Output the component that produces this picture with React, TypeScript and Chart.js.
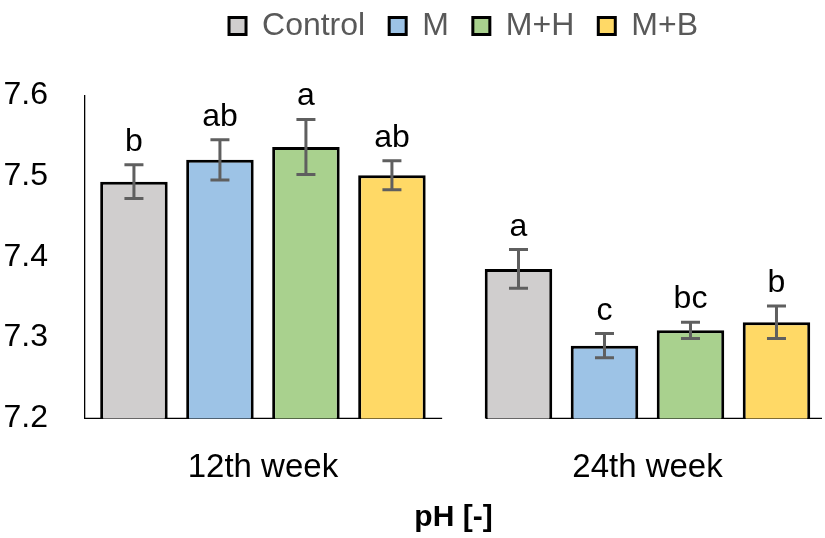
import { useEffect, useRef } from "react";
import { Chart, registerables } from "chart.js";

Chart.register(...registerables);

const CATEGORIES = ["12th week", "24th week"];
const SERIES = ["Control", "M", "M+H", "M+B"];
const COLORS = ["#D0CECE", "#9DC3E6", "#A9D18E", "#FFD966"];

const CONTROL = [7.493, 7.385];
const M = [7.52, 7.29];
const MH = [7.536, 7.309];
const MB = [7.501, 7.319];

const CONTROL_ERR = [0.021, 0.024];
const M_ERR = [0.025, 0.015];
const MH_ERR = [0.034, 0.01];
const MB_ERR = [0.018, 0.02];

const CONTROL_LETTERS = ["b", "a"];
const M_LETTERS = ["ab", "c"];
const MH_LETTERS = ["a", "bc"];
const MB_LETTERS = ["ab", "b"];

const Y_MIN = 7.2;
const Y_MAX = 7.6;
const Y_STEP = 0.1;

// x range (category index units) and broken axis segments
const X_MIN = -0.4627;
const X_MAX = 1.4538;
const AXIS_SEGMENTS = [
  [X_MIN, 0.466],
  [0.58, X_MAX],
];

const FONT = "'Liberation Sans', Arial, sans-serif";

const errorPlugin = {
  id: "errorBarsAndLetters",
  afterDatasetsDraw(chart: any) {
    const ctx = chart.ctx;
    const yScale = chart.scales.y;
    chart.data.datasets.forEach((ds: any, di: number) => {
      const meta = chart.getDatasetMeta(di);
      meta.data.forEach((bar: any, i: number) => {
        const v = ds.data[i].y;
        const e = ds.errors[i];
        const top = yScale.getPixelForValue(v + e);
        const bot = yScale.getPixelForValue(v - e);
        ctx.save();
        ctx.strokeStyle = "#5F5F5F";
        ctx.lineWidth = 3;
        ctx.beginPath();
        ctx.moveTo(bar.x, top);
        ctx.lineTo(bar.x, bot);
        ctx.moveTo(bar.x - 9.5, top);
        ctx.lineTo(bar.x + 9.5, top);
        ctx.moveTo(bar.x - 9.5, bot);
        ctx.lineTo(bar.x + 9.5, bot);
        ctx.stroke();
        ctx.fillStyle = "#000";
        ctx.font = `32px ${FONT}`;
        ctx.textAlign = "center";
        ctx.textBaseline = "alphabetic";
        ctx.fillText(ds.letters[i], bar.x, top - 14);
        ctx.restore();
      });
    });
  },
};

const axisPlugin = {
  id: "brokenXAxis",
  beforeDatasetsDraw(chart: any) {
    const ctx = chart.ctx;
    const xScale = chart.scales.x;
    const yPix = chart.chartArea.bottom;
    ctx.save();
    ctx.strokeStyle = "#000";
    ctx.lineWidth = 1.3;
    AXIS_SEGMENTS.forEach(([a, b]) => {
      ctx.beginPath();
      ctx.moveTo(xScale.getPixelForValue(a), yPix);
      ctx.lineTo(xScale.getPixelForValue(b), yPix);
      ctx.stroke();
    });
    ctx.restore();
  },
};

const legendShift = {
  id: "legendShift",
  afterLayout(chart: any) {
    const lg = chart.legend;
    if (lg) {
      lg.left += 10;
      lg.right += 10;
    }
  },
};

export default function App() {
  const ref = useRef<HTMLCanvasElement | null>(null);

  useEffect(() => {
    if (!ref.current) return;
    const values = [CONTROL, M, MH, MB];
    const errs = [CONTROL_ERR, M_ERR, MH_ERR, MB_ERR];
    const letters = [CONTROL_LETTERS, M_LETTERS, MH_LETTERS, MB_LETTERS];
    const datasets = SERIES.map((name, s) => ({
      label: name,
      data: CATEGORIES.map((_, i) => ({ x: i, y: values[s][i] })),
      errors: errs[s],
      letters: letters[s],
      backgroundColor: COLORS[s],
      borderColor: "#000",
      borderWidth: 3,
      borderSkipped: false,
      categoryPercentage: 0.8945,
      barPercentage: 0.785,
    }));

    const chart = new Chart(ref.current, {
      type: "bar",
      data: { datasets } as any,
      plugins: [axisPlugin, errorPlugin, legendShift],
      options: {
        animation: false,
        responsive: false,
        events: [],
        layout: { padding: { top: -14, bottom: 2, left: 0, right: 3 } },
        plugins: {
          tooltip: { enabled: false },
          legend: {
            position: "top",
            align: "center",
            fullSize: false,
            labels: {
              boxWidth: 17,
              boxHeight: 17,
              padding: 24,
              color: "#595959",
              font: { size: 32, family: FONT },
            },
          },
          subtitle: {
            display: true,
            text: "",
            position: "top",
            weight: 500,
            fullSize: false,
            padding: 0,
            font: { size: 36, family: FONT, lineHeight: 1.2 },
          },
        },
        scales: {
          x: {
            type: "linear",
            min: X_MIN,
            max: X_MAX,
            offset: false,
            grid: { display: false, drawTicks: false },
            border: { display: false },
            afterBuildTicks: (scale: any) => {
              scale.ticks = CATEGORIES.map((_, i) => ({ value: i }));
            },
            ticks: {
              padding: 30,
              maxRotation: 0,
              autoSkip: false,
              color: "#000",
              font: { size: 33, family: FONT },
              callback: (v: any) => CATEGORIES[v as number] ?? "",
            },
            title: {
              display: true,
              text: "pH [-]",
              color: "#000",
              font: { size: 30, family: FONT, weight: "bold", lineHeight: 1.2 },
              padding: { top: -18, bottom: 0 },
            },
          },
          y: {
            min: Y_MIN,
            max: Y_MAX,
            beginAtZero: false,
            grid: { display: false, drawTicks: false },
            border: { display: true, color: "#000", width: 1.3 },
            afterFit: (scale: any) => {
              scale.width = 85;
            },
            ticks: {
              stepSize: Y_STEP,
              padding: 37,
              color: "#000",
              font: { size: 32, family: FONT },
            },
          },
        },
      } as any,
    });
    return () => chart.destroy();
  }, []);

  return (
    <div style={{ position: "absolute", left: 0, top: 0, width: 825, height: 538, background: "#fff" }}>
      <canvas ref={ref} width={825} height={538} style={{ display: "block" }} />
    </div>
  );
}
